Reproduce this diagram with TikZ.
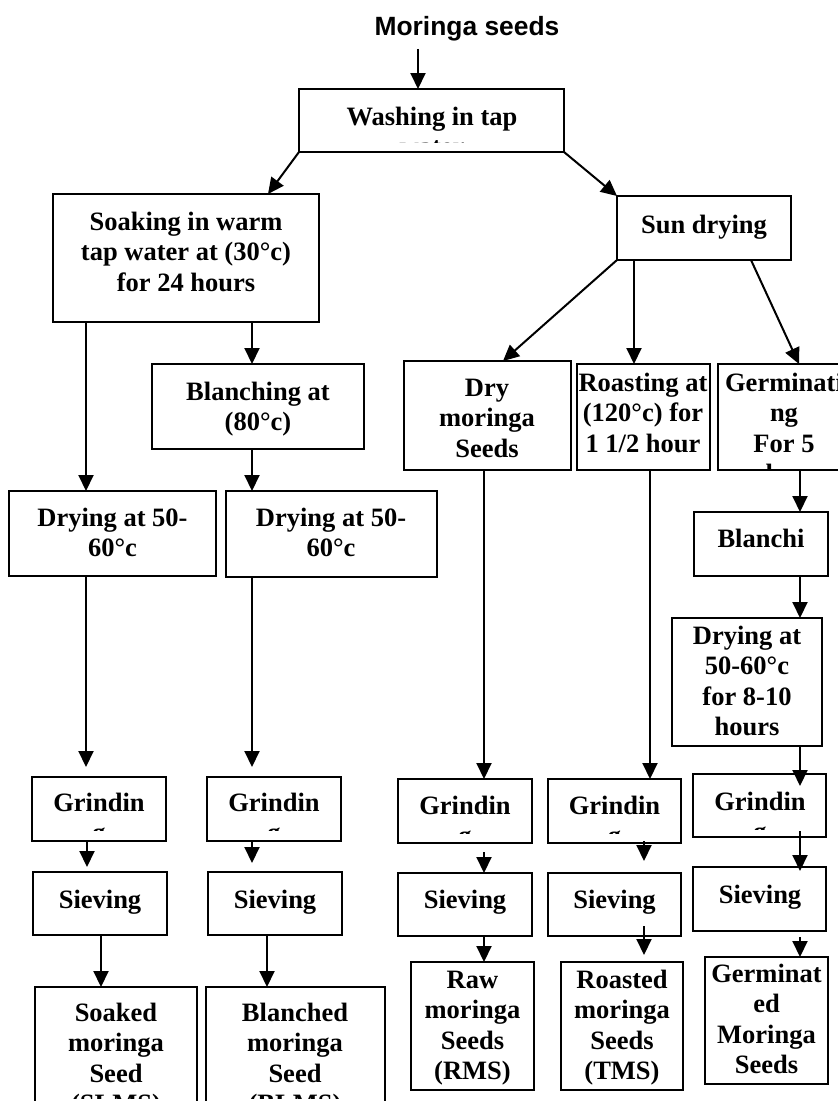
\documentclass[tikz,border=0pt]{standalone}
\usepackage{fontspec}
\setmainfont{Liberation Serif}
\newfontfamily\titlefont{Liberation Sans}
\usetikzlibrary{arrows.meta}
\tikzset{
  box/.style={draw, line width=1.7pt, inner sep=0pt, outer sep=0pt},
  txt/.style={font=\fontsize{26.5}{30.5}\selectfont\bfseries, align=center, anchor=base, inner sep=0pt},
  arr/.style={line width=2pt, -{Triangle[length=16pt,width=15pt]}},
}
% #1 name, #2 x1, #3 y1, #4 x2, #5 y2, #6 text x, #7 baseline of last line, #8 clip bottom, #9 text
\newcommand\flowbox[9]{%
  \node[box, minimum width={(#4-#2)*1pt}, minimum height={(#5-#3)*1pt}] (#1) at ({(#2+#4)/2},{(#3+#5)/2}) {};
  \begin{scope}
    \clip (#2,#3) rectangle (#4,#8);
    \node[txt] (#1T) at (#6,#7) {#9};
  \end{scope}}
\begin{document}
\begin{tikzpicture}[x=1pt, y=-1pt]
\useasboundingbox (0,0) rectangle (838,1101);
\clip (0,0) rectangle (838,1101);
\fill[white] (0,0) rectangle (838,1101);

\node[font={\titlefont\bfseries\fontsize{26.4}{30}\selectfont}, anchor=base, inner sep=4pt] (title) at (467,35) {Moringa seeds};

\flowbox{wash}{299}{89}{564}{152}{432}{155.5}{142}{Washing in tap\\water}
\flowbox{soak}{53}{194}{319}{322}{186}{291}{313}{Soaking in warm\\tap water at (30°c)\\for 24 hours}
\flowbox{sun}{617}{196}{791}{260}{704}{233}{252}{Sun drying}
\flowbox{blanch}{152}{364}{364}{449}{258}{430.5}{441}{Blanching at\\(80°c)}
\flowbox{dryA}{9}{491}{216}{576}{112.5}{556.5}{568}{Drying at 50-\\60°c}
\flowbox{dryB}{226}{491}{437}{577}{331}{556.5}{569}{Drying at 50-\\60°c}
\flowbox{drym}{404}{361}{571}{470}{487}{457}{462}{Dry\\moringa\\Seeds}
\flowbox{roast}{577}{364}{710}{470}{643}{452}{462}{Roasting at\\(120°c) for\\1 1/2 hour}
\flowbox{germ}{718}{364}{850}{470}{784}{482.5}{468}{Germinati\\ng\\For 5\\days}
\flowbox{blanchi}{694}{512}{828}{576}{761}{547}{568}{Blanchi}
\flowbox{dryg}{672}{618}{822}{746}{747}{735.5}{740}{Drying at\\50-60°c\\for 8-10\\hours}

\flowbox{gA}{32}{777}{166}{841}{99}{841.5}{830.8}{Grindin\\g}
\flowbox{gB}{207}{777}{341}{841}{274}{841.5}{830.8}{Grindin\\g}
\flowbox{gC}{398}{779}{532}{843}{465}{844.5}{833.8}{Grindin\\g}
\flowbox{gD}{548}{779}{681}{843}{614.5}{844.5}{833.8}{Grindin\\g}
\flowbox{gE}{693}{774}{826}{837}{760}{840.5}{829.8}{Grindin\\g}

\flowbox{sA}{33}{872}{167}{935}{100}{908}{927}{Sieving}
\flowbox{sB}{208}{872}{342}{935}{275}{908}{927}{Sieving}
\flowbox{sC}{398}{873}{532}{936}{465}{908}{928}{Sieving}
\flowbox{sD}{548}{873}{681}{936}{614.5}{908}{928}{Sieving}
\flowbox{sE}{693}{867}{826}{931}{760}{903}{923}{Sieving}

\flowbox{fA}{35}{987}{197}{1115}{116}{1112.5}{1098}{Soaked\\moringa\\Seed\\(SLMS)}
\flowbox{fB}{206}{987}{385}{1115}{295}{1112.5}{1098}{Blanched\\moringa\\Seed\\(BLMS)}
\flowbox{fC}{411}{962}{534}{1090}{472.5}{1079.5}{1088}{Raw\\moringa\\Seeds\\(RMS)}
\flowbox{fD}{561}{962}{683}{1090}{622}{1079.5}{1088}{Roasted\\moringa\\Seeds\\(TMS)}
\flowbox{fE}{705}{957}{828}{1084}{766.5}{1073.5}{1082}{Germinat\\ed\\Moringa\\Seeds}

% column x positions
\coordinate (xT) at (418,0);
\coordinate (xS) at (268,0);
\coordinate (xA) at (86,0);
\coordinate (xB) at (252,0);
\coordinate (xD) at (503,0);
\coordinate (xE) at (634,0);
\coordinate (xF) at (751,0);
\coordinate (xG) at (799,0);
\coordinate (xH) at (484,0);
\coordinate (xI) at (650,0);
\coordinate (xJ) at (800,0);
\coordinate (xK) at (87,0);
\coordinate (xL) at (644,0);
\coordinate (xM) at (101,0);
\coordinate (xN) at (267,0);

\draw[arr, shorten <=4pt] (title.south -| xT) -- (wash.north -| xT);
\draw[arr] (wash.south west) -- (soak.north -| xS);
\draw[arr] (wash.south east) -- (sun.north west);
\draw[arr] (soak.south -| xA) -- (dryA.north -| xA);
\draw[arr] (soak.south -| xB) -- (blanch.north -| xB);
\draw[arr] (blanch.south -| xB) -- (dryB.north -| xB);
\draw[arr, shorten >=10pt] (dryA.south -| xA) -- (gA.north -| xA);
\draw[arr, shorten >=10pt] (dryB.south -| xB) -- (gB.north -| xB);
\draw[arr] (sun.south west) -- (drym.north -| xD);
\draw[arr] (sun.south -| xE) -- (roast.north -| xE);
\draw[arr] (sun.south -| xF) -- (germ.north -| xG);
\draw[arr] (drym.south -| xH) -- (gC.north -| xH);
\draw[arr] (roast.south -| xI) -- (gD.north -| xI);
\draw[arr] (germ.south -| xJ) -- (blanchi.north -| xJ);
\draw[arr] (blanchi.south -| xJ) -- (dryg.north -| xJ);
\draw[arr, shorten >=-12pt] (dryg.south -| xJ) -- (gE.north -| xJ);
\draw[arr, shorten >=5pt] (gA.south -| xK) -- (sA.north -| xK);
\draw[arr, shorten >=9pt] (gB.south -| xB) -- (sB.north -| xB);
\draw[arr, shorten <=9pt] (gC.south -| xH) -- (sC.north -| xH);
\draw[arr, shorten <=-2pt, shorten >=12pt] (gD.south -| xL) -- (sD.north -| xL);
\draw[arr, shorten <=-6pt, shorten >=-4pt] (gE.south -| xJ) -- (sE.north -| xJ);
\draw[arr] (sA.south -| xM) -- (fA.north -| xM);
\draw[arr] (sB.south -| xN) -- (fB.north -| xN);
\draw[arr] (sC.south -| xH) -- (fC.north -| xH);
\draw[arr, shorten <=-10pt, shorten >=7pt] (sD.south -| xL) -- (fD.north -| xL);
\draw[arr, shorten <=6pt] (sE.south -| xJ) -- (fE.north -| xJ);
\end{tikzpicture}
\end{document}
